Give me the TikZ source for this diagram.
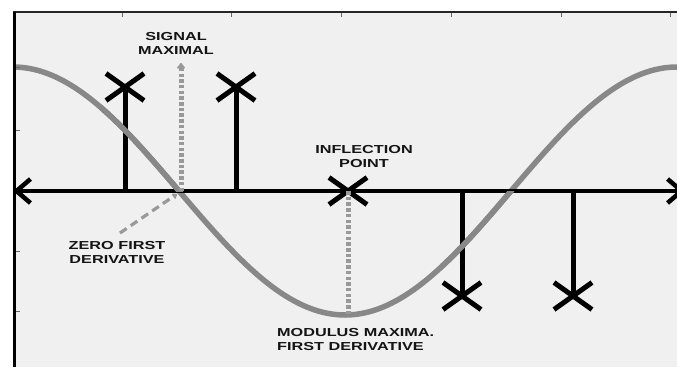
\documentclass[tikz,border=0pt]{standalone}
\usepackage{fontspec}
\setmainfont{Liberation Sans}[FakeStretch=1.4]
\usetikzlibrary{arrows.meta,shapes.misc}
\definecolor{bgfill}{HTML}{F0F0F0}
\definecolor{curvegray}{HTML}{888888}
\definecolor{dotgray}{HTML}{999999}
\begin{document}
\begin{tikzpicture}[x=1pt,y=-1pt,
  ticks/.style={line width=1pt, black!60},
  axisline/.style={line width=4.5pt, black,
    {Straight Barb[length=14pt,width=24pt]}-{Straight Barb[length=14pt,width=24pt]}},
  stem/.style={line width=5pt, black},
  xmark/.style={cross out, draw=black, line width=5pt, minimum width=33pt, minimum height=22pt, inner sep=0pt},
  curveline/.style={line width=5.5pt, curvegray},
  dotline/.style={line width=5pt, dotgray, dash pattern=on 3.5pt off 2.2pt},
  dashline/.style={line width=3.2pt, dotgray, dash pattern=on 8pt off 5pt},
  lbl/.style={font=\fontsize{11.6}{14}\selectfont\bfseries, text=black!92, align=center, inner sep=0pt}
]
\clip (0,0) rectangle (677,367);
\fill[white] (0,0) rectangle (677,367);
\fill[bgfill] (14,12) rectangle (677,367);

% signal curve
\draw[curveline] plot[domain=15:680, samples=140, smooth] (\x, {191-124*cos(0.54217*(\x-13))});

\draw[line width=1.2pt, black!85] (13,12) -- (677,12);
\draw[line width=3.2pt, black] (14.5,12) -- (14.5,367);
\foreach \t in {122,231,341,451,561,670} \draw[ticks] (\t,12.5) -- (\t,16.5);
\foreach \t in {67,130,251,311} \draw[ticks] (16,\t) -- (20,\t);

% axis
\coordinate (axL) at (13,191);
\coordinate (axR) at (685,191);
\draw[axisline] (axL) -- (axR);

% stems and X marks
\node[xmark] (x1) at (125,87) {};
\node[xmark] (x2) at (236,87) {};
\node[xmark] (x3) at (348,191) {};
\node[xmark] (x4) at (462,296) {};
\node[xmark] (x5) at (573,296) {};
\coordinate (b1) at (125,191);
\coordinate (b2) at (236,191);
\coordinate (b4) at (462,191);
\coordinate (b5) at (573,191);
\draw[stem] (b1) -- (x1.center);
\draw[stem] (b2) -- (x2.center);
\draw[stem] (b4) -- (x4.center);
\draw[stem] (b5) -- (x5.center);

% curve drawn again over the stems where it crosses them
\begin{scope}
\clip (100,60) rectangle (260,191);
\draw[curveline] plot[domain=100:260, samples=40, smooth] (\x, {191-124*cos(0.54217*(\x-13))});
\end{scope}
\begin{scope}
\clip (440,191) rectangle (600,330);
\draw[curveline] plot[domain=440:600, samples=40, smooth] (\x, {191-124*cos(0.54217*(\x-13))});
\end{scope}

% labels
\node[lbl] (sm) at (176,43) {SIGNAL\\MAXIMAL};
\node[lbl] (ip) at (364,157) {INFLECTION\\POINT};
\node[lbl] (zf) at (117,252) {ZERO FIRST\\DERIVATIVE};
\node[lbl, align=left, anchor=west] (mm) at (277,340) {MODULUS MAXIMA.\\FIRST DERIVATIVE};

% annotation lines
\coordinate (z0) at (181,191);
\coordinate (smtop) at (181,63);
\draw[dotline, -{Triangle[length=6pt,width=9pt,round]}] (z0) -- (smtop);
\coordinate (zfs) at (120,233);
\coordinate (zft) at (177,194);
\draw[dashline, -{Triangle[length=5pt,width=7pt,round]}] (zfs) -- (zft);
\coordinate (minpt) at (348,314);
\draw[dotline] (x3.center) -- (minpt);
\end{tikzpicture}
\end{document}
